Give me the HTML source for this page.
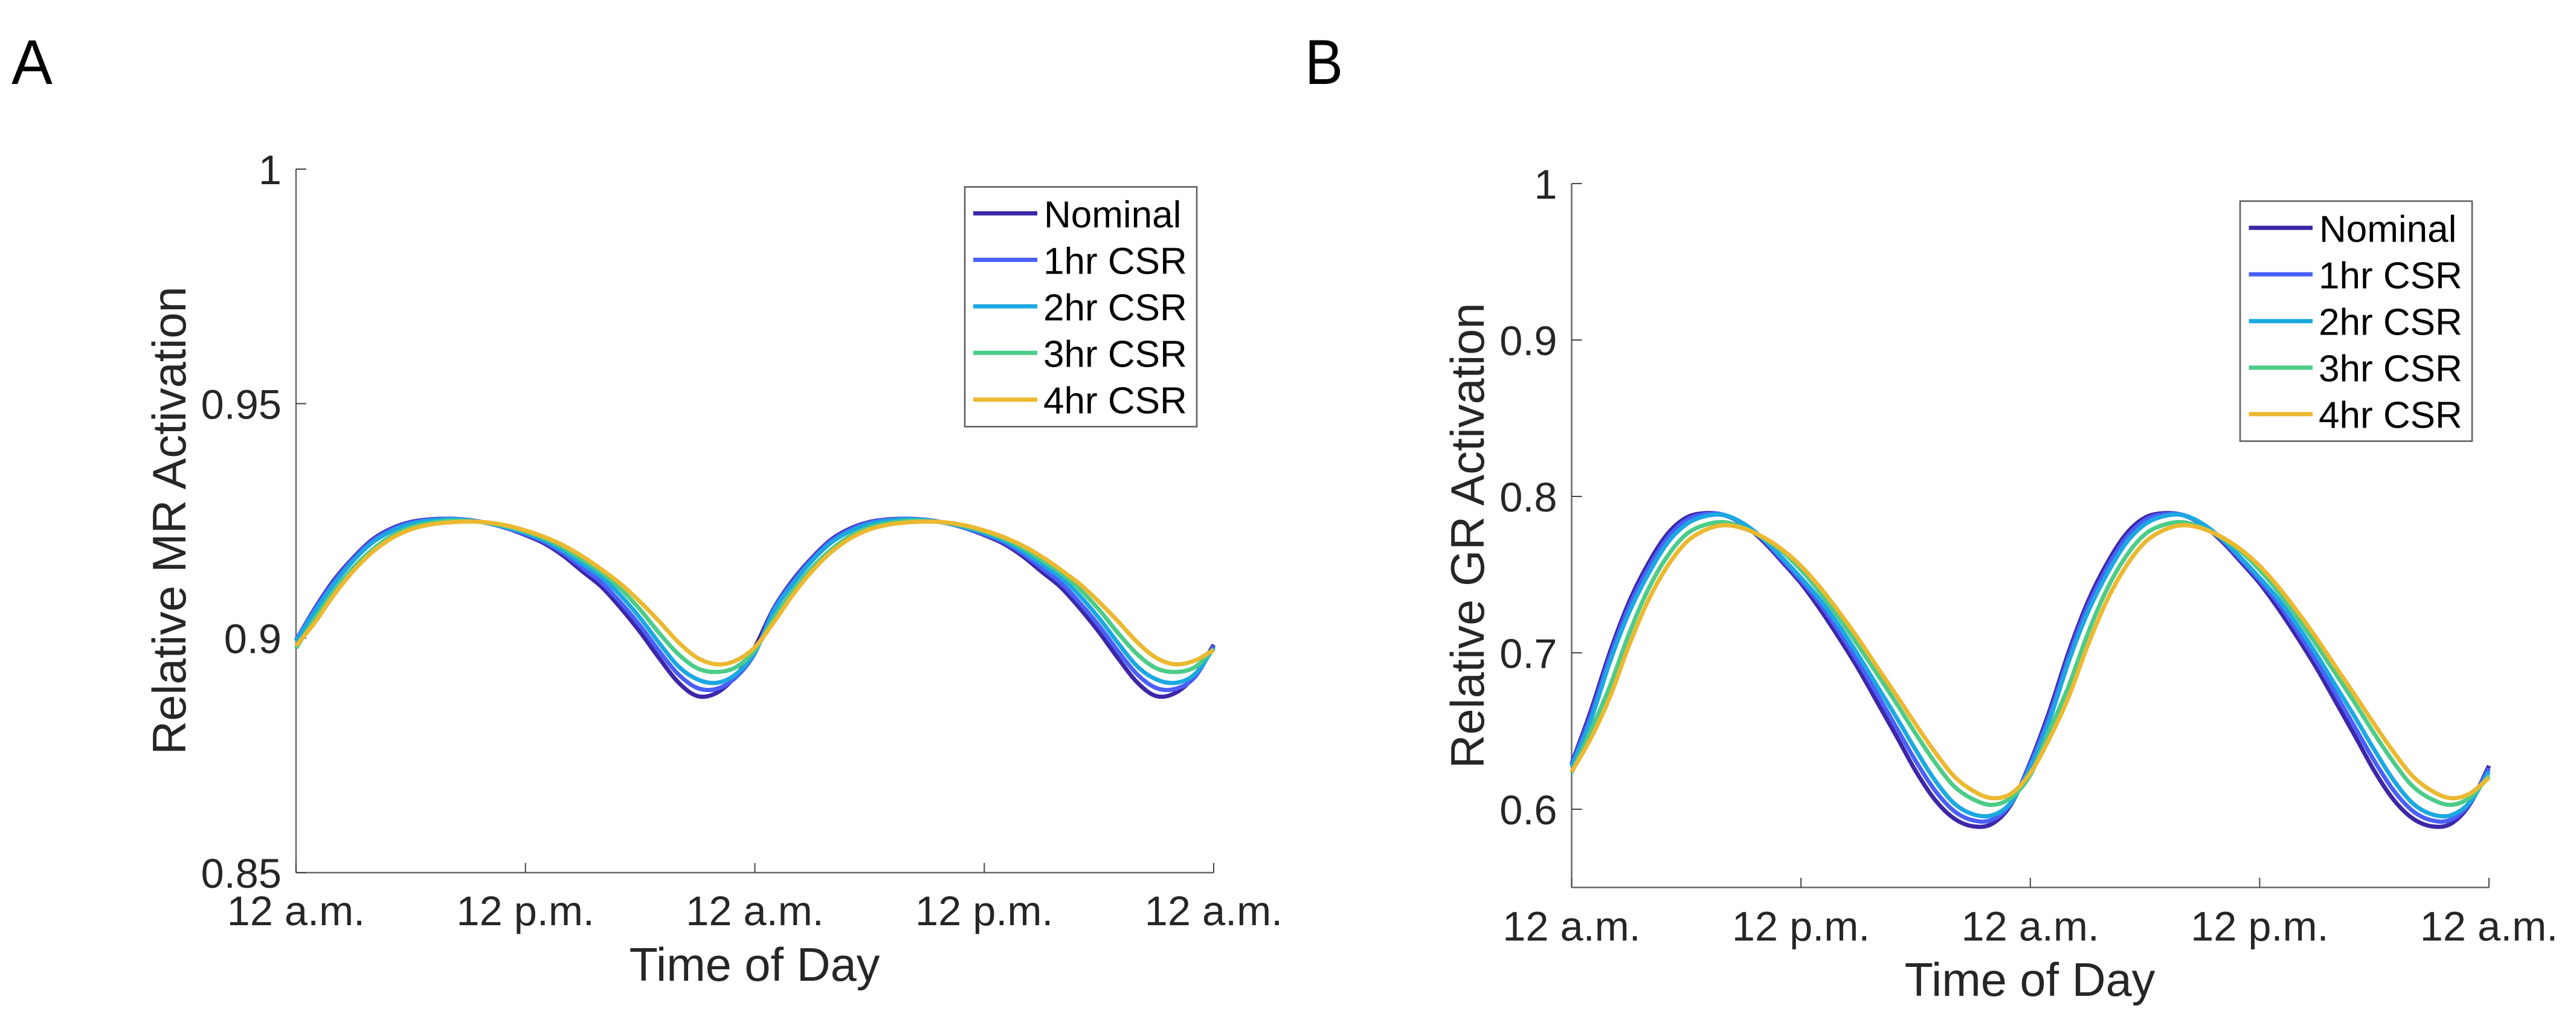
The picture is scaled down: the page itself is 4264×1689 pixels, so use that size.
<!DOCTYPE html>
<html lang="en">
<head>
<meta charset="utf-8">
<title>Relative MR and GR Activation</title>
<style>
html,body{margin:0;padding:0;background:#fff;width:4264px;height:1689px;overflow:hidden}
svg{display:block}
text{font-family:"Liberation Sans",Arial,sans-serif}
.tick{font-size:68.5px;fill:#262626}
.title{font-size:77.5px;fill:#262626}
.leg{font-size:62px;fill:#000}
.panel{font-size:105px;fill:#000}
</style>
</head>
<body>
<svg id="fig" width="4264" height="1689" viewBox="0 0 4264 1689" xmlns="http://www.w3.org/2000/svg">
  <rect width="4264" height="1689" fill="#fff"/>
  <text class="panel" transform="translate(19 139) scale(.97 1)">A</text>
  <text class="panel" transform="translate(2160 139) scale(.9 1)">B</text>

  <g id="chartA">
    <text class="title" text-anchor="middle" transform="translate(307 862) rotate(-90)">Relative MR Activation</text>
    <text class="title" text-anchor="middle" x="1249" y="1624">Time of Day</text>
  </g>
  <g id="chartB">
    <text class="title" text-anchor="middle" transform="translate(2456 887) rotate(-90)">Relative GR Activation</text>
    <text class="title" text-anchor="middle" x="3360" y="1649">Time of Day</text>
  </g>

  <g id="legendA">
    <rect x="1597" y="309.5" width="384" height="397" fill="#fff" stroke="#5a5a5a" stroke-width="2.5"/>
    <line x1="1611" x2="1717" y1="353.3" y2="353.3" stroke="#3E26A8" stroke-width="7"/>
    <line x1="1611" x2="1717" y1="430.3" y2="430.3" stroke="#4A60F8" stroke-width="7"/>
    <line x1="1611" x2="1717" y1="507.3" y2="507.3" stroke="#1CA8E0" stroke-width="7"/>
    <line x1="1611" x2="1717" y1="584.3" y2="584.3" stroke="#4CCC88" stroke-width="7"/>
    <line x1="1611" x2="1717" y1="661.7" y2="661.7" stroke="#EBB830" stroke-width="7"/>
    <text class="leg" x="1728" y="376.7">Nominal</text>
    <text class="leg" x="1727" y="453.7">1hr CSR</text>
    <text class="leg" x="1727" y="530.7">2hr CSR</text>
    <text class="leg" x="1727" y="607.7">3hr CSR</text>
    <text class="leg" x="1727" y="684.7">4hr CSR</text>
  </g>
  <g id="legendB">
    <rect x="3708" y="333" width="384" height="397.5" fill="#fff" stroke="#5a5a5a" stroke-width="2.5"/>
    <line x1="3722.5" x2="3828" y1="377.3" y2="377.3" stroke="#3E26A8" stroke-width="7"/>
    <line x1="3722.5" x2="3828" y1="454.3" y2="454.3" stroke="#4A60F8" stroke-width="7"/>
    <line x1="3722.5" x2="3828" y1="531.7" y2="531.7" stroke="#1CA8E0" stroke-width="7"/>
    <line x1="3722.5" x2="3828" y1="608.7" y2="608.7" stroke="#4CCC88" stroke-width="7"/>
    <line x1="3722.5" x2="3828" y1="685.7" y2="685.7" stroke="#EBB830" stroke-width="7"/>
    <text class="leg" x="3839" y="400.7">Nominal</text>
    <text class="leg" x="3838" y="477.7">1hr CSR</text>
    <text class="leg" x="3838" y="554.7">2hr CSR</text>
    <text class="leg" x="3838" y="631.7">3hr CSR</text>
    <text class="leg" x="3838" y="708.7">4hr CSR</text>
  </g>
</svg>
<script>
// Sample times (hours since the first midnight)
const hours = [0,1,2,3,4,5,6,7,8,9,10,11,12,13,14,15,16,17,18,19,20,21,22,23,24,25,26,27,28,29,30,31,32,33,34,35,36,37,38,39,40,41,42,43,44,45,46,47,48];
const seriesKeys = ['nominal','1hr-csr','2hr-csr','3hr-csr','4hr-csr'];
const seriesColors = ['#3E26A8','#4A60F8','#1CA8E0','#4CCC88','#EBB830'];
const xTickHours = [0,12,24,36,48];
const xTickLabels = ['12 a.m.','12 p.m.','12 a.m.','12 p.m.','12 a.m.'];

// Panel A: relative MR activation
const mrTickValues = [1,0.95,0.9,0.85];
const mrTickLabels = ['1','0.95','0.9','0.85'];
const mrNominal = [.89957,.90643,.91244,.91716,.92103,.92339,.92476,.92532,.92545,.92519,.92454,.92347,.92197,.92017,.91751,.91416,.91086,.90635,.90129,.89571,.89056,.88764,.88833,.89193,
                   .89807,.90643,.91244,.91716,.92103,.92339,.92476,.92532,.92545,.92519,.92454,.92347,.92197,.92017,.91751,.91416,.91086,.90635,.90129,.89571,.89056,.88764,.88833,.89193,.89859];
const mr1hr = [.89957,.90622,.91210,.91691,.92077,.92317,.92463,.92523,.92540,.92519,.92454,.92351,.92215,.92047,.91803,.91494,.91180,.90751,.90266,.89721,.89228,.88936,.88919,.89163,
               .89678,.90622,.91210,.91691,.92077,.92317,.92463,.92523,.92540,.92519,.92454,.92351,.92215,.92047,.91803,.91494,.91180,.90751,.90266,.89721,.89228,.88936,.88919,.89163,.89830];
const mr2hr = [.89935,.90579,.91158,.91652,.92038,.92283,.92437,.92506,.92532,.92510,.92454,.92360,.92240,.92082,.91854,.91579,.91296,.90901,.90429,.89893,.89399,.89120,.89047,.89228,
               .89700,.90579,.91158,.91652,.92038,.92283,.92437,.92506,.92532,.92510,.92454,.92360,.92240,.92082,.91854,.91579,.91296,.90901,.90429,.89893,.89399,.89120,.89047,.89228,.89786];
const mr3hr = [.89785,.90429,.91008,.91502,.91888,.92180,.92360,.92454,.92502,.92497,.92459,.92386,.92275,.92125,.91923,.91665,.91391,.91039,.90609,.90107,.89657,.89356,.89279,.89378,
               .89743,.90429,.91008,.91502,.91888,.92180,.92360,.92454,.92502,.92497,.92459,.92386,.92275,.92125,.91923,.91665,.91391,.91039,.90609,.90107,.89657,.89356,.89279,.89378,.89763];
const mr4hr = [.89836,.90343,.90931,.91433,.91836,.92128,.92317,.92420,.92467,.92485,.92467,.92403,.92296,.92155,.91974,.91738,.91459,.91150,.90773,.90356,.89914,.89579,.89442,.89519,
               .89807,.90343,.90931,.91433,.91836,.92128,.92317,.92420,.92467,.92485,.92467,.92403,.92296,.92155,.91974,.91738,.91459,.91150,.90773,.90356,.89914,.89579,.89442,.89519,.89749];

// Panel B: relative GR activation
const grTickValues = [1,0.9,0.8,0.7,0.6];
const grTickLabels = ['1','0.9','0.8','0.7','0.6'];
const grNominal = [.6291,.6628,.7003,.7324,.7569,.7758,.7864,.7893,.7880,.7819,.7716,.7584,.7445,.7278,.7094,.6898,.6682,.6466,.6245,.6062,.5942,.5891,.5907,.6032,
                   .6302,.6628,.7003,.7324,.7569,.7758,.7864,.7893,.7880,.7819,.7716,.7584,.7445,.7278,.7094,.6898,.6682,.6466,.6245,.6062,.5942,.5891,.5907,.6032,.6278];
const gr1hr = [.6282,.6600,.6973,.7295,.7539,.7732,.7848,.7887,.7881,.7822,.7726,.7597,.7462,.7313,.7133,.6940,.6733,.6521,.6309,.6122,.5990,.5929,.5933,.6039,
               .6290,.6600,.6973,.7295,.7539,.7732,.7848,.7887,.7881,.7822,.7726,.7597,.7462,.7313,.7133,.6940,.6733,.6521,.6309,.6122,.5990,.5929,.5933,.6039,.6262];
const gr2hr = [.6272,.6568,.6941,.7256,.7501,.7700,.7822,.7874,.7880,.7826,.7732,.7610,.7480,.7340,.7171,.6985,.6785,.6586,.6380,.6187,.6039,.5968,.5961,.6045,
               .6270,.6568,.6941,.7256,.7501,.7700,.7822,.7874,.7880,.7826,.7732,.7610,.7480,.7340,.7171,.6985,.6785,.6586,.6380,.6187,.6039,.5968,.5961,.6045,.6240];
const gr3hr = [.6233,.6503,.6786,.7121,.7404,.7616,.7758,.7819,.7835,.7800,.7735,.7650,.7530,.7386,.7220,.7045,.6862,.6676,.6483,.6302,.6148,.6064,.6028,.6075,
               .6219,.6503,.6786,.7121,.7404,.7616,.7758,.7819,.7835,.7800,.7735,.7650,.7530,.7386,.7220,.7045,.6862,.6676,.6483,.6302,.6148,.6064,.6028,.6075,.6212];
const gr4hr = [.6239,.6452,.6716,.7046,.7333,.7552,.7707,.7786,.7816,.7795,.7741,.7662,.7555,.7418,.7260,.7090,.6907,.6727,.6543,.6367,.6212,.6118,.6071,.6100,
               .6232,.6452,.6716,.7046,.7333,.7552,.7707,.7786,.7816,.7795,.7741,.7662,.7555,.7418,.7260,.7090,.6907,.6727,.6543,.6367,.6212,.6118,.6071,.6100,.6201];

const mrSeries = [mrNominal,mr1hr,mr2hr,mr3hr,mr4hr];
const grSeries = [grNominal,gr1hr,gr2hr,gr3hr,gr4hr];

const NS = 'http://www.w3.org/2000/svg';
function make(parent, tag, attrs){
  const e = document.createElementNS(NS, tag);
  for (const k in attrs) e.setAttribute(k, attrs[k]);
  parent.appendChild(e);
  return e;
}
function smoothPath(xs, ys){
  const n = xs.length, m = [];
  for (let i = 0; i < n; i++){
    const a = Math.max(0, i-1), b = Math.min(n-1, i+1);
    m.push((ys[b]-ys[a])/(xs[b]-xs[a]));
  }
  let d = 'M' + xs[0].toFixed(2) + ' ' + ys[0].toFixed(2);
  for (let i = 0; i < n-1; i++){
    const dx = xs[i+1]-xs[i];
    d += 'C' + (xs[i]+dx/3).toFixed(2) + ' ' + (ys[i]+m[i]*dx/3).toFixed(2) + ' ' +
         (xs[i+1]-dx/3).toFixed(2) + ' ' + (ys[i+1]-m[i+1]*dx/3).toFixed(2) + ' ' +
         xs[i+1].toFixed(2) + ' ' + ys[i+1].toFixed(2);
  }
  return d;
}
function drawChart(cfg){
  const root = document.getElementById(cfg.id);
  const xScale = h => cfg.left + (h/48)*(cfg.right-cfg.left);
  const yScale = v => cfg.bottom - (v-cfg.yMin)/(cfg.yMax-cfg.yMin)*(cfg.bottom-cfg.top);

  const yAxis = make(root, 'line', {x1:cfg.left,x2:cfg.left,y1:cfg.top,y2:cfg.bottom,stroke:'#666',['stroke-width']:2.5});
  
  
  const xAxis = make(root, 'line', {x1:cfg.left,x2:cfg.right,y1:cfg.bottom,y2:cfg.bottom,stroke:'#666',['stroke-width']:2.5});
  
  

  cfg.yTicks.forEach((v,i) => {
    const y = yScale(v);
    const t = make(root, 'line', {x1:cfg.left,x2:cfg.left+17,y1:y,y2:y,stroke:'#444',['stroke-width']:2});
    
    
    const l = make(root, 'text', {x:cfg.left-24,y:y+25,['text-anchor']:'end',class:'tick'});
    l.textContent = cfg.yLabels[i];
    
    
  });
  xTickHours.forEach((h,i) => {
    const x = xScale(h);
    const t = make(root, 'line', {x1:x,x2:x,y1:cfg.bottom,y2:cfg.bottom-16,stroke:'#444',['stroke-width']:2});
    
    
    const l = make(root, 'text', {x:x,y:cfg.bottom+cfg.labelGap,['text-anchor']:'middle',class:'tick'});
    l.textContent = xTickLabels[i];
    
    
  });
  const xs = hours.map(xScale);
  cfg.series.forEach((vals,i) => {
    const p = make(root, 'path', {d:smoothPath(xs, vals.map(yScale)),fill:'none',stroke:seriesColors[i],['stroke-width']:7,['stroke-linejoin']:'round'});
    
    
  });
}
drawChart({id:'chartA',left:490,right:2009,top:280,bottom:1445,yMin:0.85,yMax:1,labelGap:87,yTicks:mrTickValues,yLabels:mrTickLabels,series:mrSeries});
drawChart({id:'chartB',left:2601.5,right:4120,top:304,bottom:1469.5,yMin:0.55,yMax:1,labelGap:88,yTicks:grTickValues,yLabels:grTickLabels,series:grSeries});
</script>
</body>
</html>
